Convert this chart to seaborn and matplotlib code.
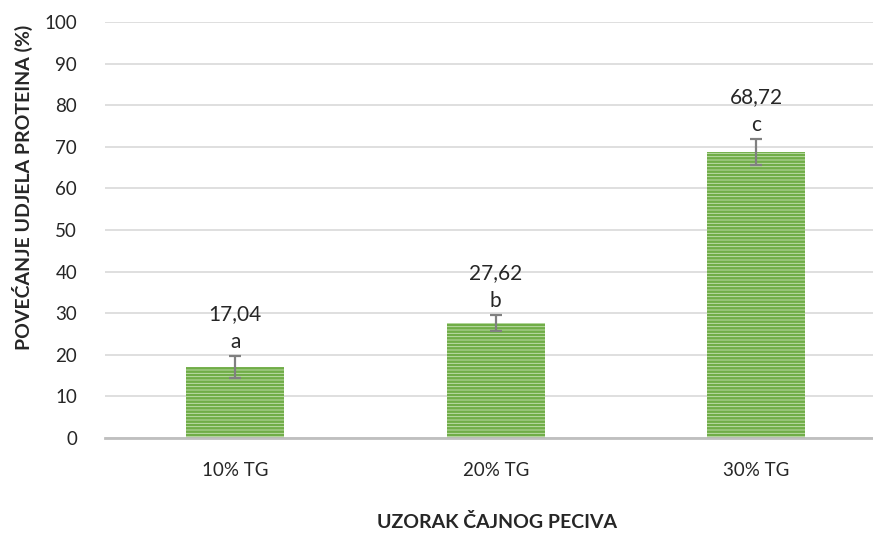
import matplotlib
matplotlib.use("Agg")
import matplotlib.pyplot as plt
import seaborn as sns
import pandas as pd

# podaci
uzorci = ["10% TG", "20% TG", "30% TG"]
povecanje = [17.04, 27.62, 68.72]
greske = [2.7, 2.0, 3.2]
slova = ["a", "b", "c"]

sns.set_theme(style="white")
plt.rcParams["font.family"] = ["Lato", "DejaVu Sans"]
plt.rcParams["hatch.linewidth"] = 1.8
plt.rcParams["hatch.color"] = "#70ad47"

dados = pd.DataFrame({"uzorak": uzorci, "vrijednost": povecanje})

fig = plt.figure(figsize=(8.73, 5.33), dpi=100)
ax = fig.add_axes([105 / 873, 95 / 533, 1 - 105 / 873, 416 / 533])

sns.barplot(data=dados, x="uzorak", y="vrijednost", ax=ax, color="#c9e3b8",
            width=0.376, hatch="-----", edgecolor="#70ad47", linewidth=0,
            saturation=1, zorder=2)
ax.errorbar(range(len(uzorci)), povecanje, yerr=greske, fmt="none",
            ecolor="#808080", elinewidth=1.6, capsize=4.5, capthick=1.6, zorder=3)

for i, (v, e, s) in enumerate(zip(povecanje, greske, slova)):
    ax.annotate(s, (i, v + e), xytext=(0, 10), textcoords="offset points",
                ha="center", va="center", fontsize=15, color="#262626")
    ax.annotate(f"{v:.2f}".replace(".", ","), (i, v + e), xytext=(0, 30),
                textcoords="offset points", ha="center", va="center",
                fontsize=15, color="#262626")

ax.set_ylim(0, 100)
ax.set_xlim(-0.5, -0.5 + 768 / 260.5)
ax.set_yticks(range(0, 101, 10))
ax.yaxis.grid(True, color="#d9d9d9", linewidth=1.2, zorder=0)
ax.set_axisbelow(True)
for s in ["top", "right", "left"]:
    ax.spines[s].set_visible(False)
ax.spines["bottom"].set_color("#bfbfbf")
ax.spines["bottom"].set_linewidth(2)
ax.tick_params(axis="y", length=0, pad=20, labelsize=13.5, labelcolor="#262626")
ax.tick_params(axis="x", length=0, pad=17, labelsize=13.5, labelcolor="#262626")

ax.set_xlabel("UZORAK ČAJNOG PECIVA", fontsize=14, fontweight="bold",
              color="#262626")
ax.set_ylabel("POVEĆANJE UDJELA PROTEINA (%)", fontsize=14, fontweight="bold",
              color="#262626")
ax.xaxis.label.set_va("center")
ax.yaxis.label.set_va("center")
ax.xaxis.set_label_coords((497 - 105) / 768, -84 / 416)
ax.yaxis.set_label_coords(-(105 - 22) / 768, (438 - 187) / 416)

fig.savefig("out.png", dpi=100)
